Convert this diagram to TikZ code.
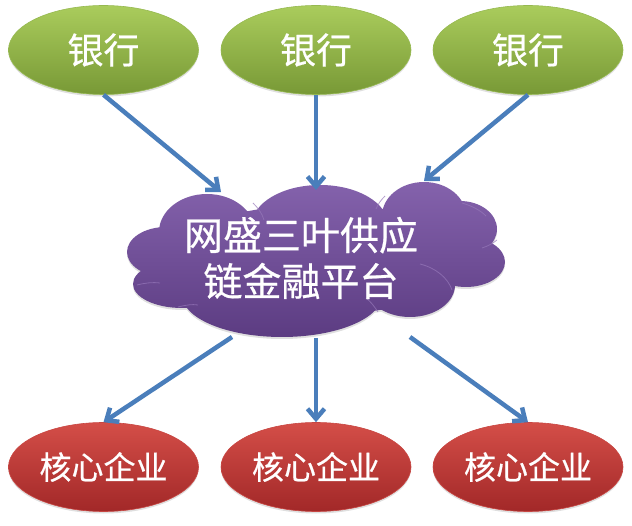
\documentclass[tikz,border=0pt]{standalone}
\usepackage{fontspec}
\newfontfamily\cjk[FakeBold=0.6]{Noto Sans CJK SC}
\usetikzlibrary{shapes.geometric,arrows.meta,shadows}
\definecolor{greenT}{RGB}{170,204,92}
\definecolor{greenB}{RGB}{120,153,54}
\definecolor{greenE}{RGB}{150,185,80}
\definecolor{redT}{RGB}{212,78,72}
\definecolor{redB}{RGB}{162,40,40}
\definecolor{redE}{RGB}{200,70,66}
\definecolor{purT}{RGB}{132,98,172}
\definecolor{purB}{RGB}{92,60,130}
\definecolor{purL}{RGB}{150,120,185}
\definecolor{arrowblue}{RGB}{74,126,187}
\begin{document}
\begin{tikzpicture}[x=1pt,y=-1pt,
  bankbox/.style={ellipse, minimum width=190pt, minimum height=89pt, inner sep=0pt,
    top color=greenT, bottom color=greenB, draw=greenE, line width=0.6pt,
    drop shadow={opacity=0.25, shadow xshift=0pt, shadow yshift=-2pt},
    text=white, font=\cjk\fontsize{36}{40}\selectfont},
  corpbox/.style={ellipse, minimum width=190pt, minimum height=89pt, inner sep=0pt,
    top color=redT, bottom color=redB, draw=redE, line width=0.6pt,
    drop shadow={opacity=0.25, shadow xshift=0pt, shadow yshift=-2pt},
    text=white, font=\cjk\fontsize{32}{36}\selectfont},
  cloudfill/.style={top color=purT, bottom color=purB,
    drop shadow={opacity=0.25, shadow xshift=0pt, shadow yshift=-2pt}},
  cloudline/.style={draw=purL, line width=0.8pt, opacity=0.7},
  cloudtext/.style={text=white, align=center, inner sep=0pt,
    font=\cjk\fontsize{39}{46}\selectfont},
  link/.style={draw=arrowblue, line width=4.5pt,
    -{Straight Barb[length=10pt,width=17pt,line width=4.5pt]}}
]
\useasboundingbox (0,0) rectangle (632,526);

\node[bankbox] (bank1) at (103.5,50) {银行};
\node[bankbox] (bank2) at (316,50) {银行};
\node[bankbox] (bank3) at (528,50) {银行};

% cloud body: union of puffs
\path[cloudfill]
  (207,232) ellipse [x radius=48, y radius=38]
  (166,252) ellipse [x radius=39, y radius=25]
  (182,284) ellipse [x radius=49, y radius=24]
  (282,295) ellipse [x radius=100, y radius=42]
  (410,285) ellipse [x radius=45, y radius=32]
  (466,262) ellipse [x radius=39, y radius=25]
  (460,229) ellipse [x radius=37, y radius=28]
  (424,216) ellipse [x radius=42, y radius=34]
  (320,225) ellipse [x radius=68, y radius=40]
  (317,260) ellipse [x radius=150, y radius=55];
% faint inner arcs
\draw[cloudline] (253,203) .. controls (258,208) and (262,213) .. (264,220);
\draw[cloudline] (385,196) .. controls (381,200) and (378,204) .. (376,209);
\draw[cloudline] (462,203) .. controls (472,206) and (480,210) .. (486,216);
\draw[cloudline] (497,240) .. controls (492,244) and (488,246) .. (482,248);
\draw[cloudline] (420,264) .. controls (436,268) and (448,278) .. (452,290);
\draw[cloudline] (137,285) .. controls (145,283) and (152,282) .. (160,283);
\draw[cloudline] (178,307) .. controls (186,305) and (192,304) .. (198,305);
\draw[cloudline] (378,312) .. controls (374,306) and (371,302) .. (366,298);

\node[cloudtext] (platform) at (301,258) {网盛三叶供应\\链金融平台};

\node[corpbox] (corp1) at (103.5,467) {核心企业};
\node[corpbox] (corp2) at (316,467) {核心企业};
\node[corpbox] (corp3) at (528,467) {核心企业};

\coordinate (in1) at (221,192);
\coordinate (in2) at (316,190);
\coordinate (in3) at (424,181);
\coordinate (out1) at (232,337);
\coordinate (out2) at (316,338);
\coordinate (out3) at (410,337);

\draw[link] (bank1.south) -- (in1);
\draw[link] (bank2.south) -- (in2);
\draw[link] (bank3.south) -- (in3);
\draw[link] (out1) -- (corp1.north);
\draw[link] (out2) -- (corp2.north);
\draw[link] (out3) -- (corp3.north);
\end{tikzpicture}
\end{document}
